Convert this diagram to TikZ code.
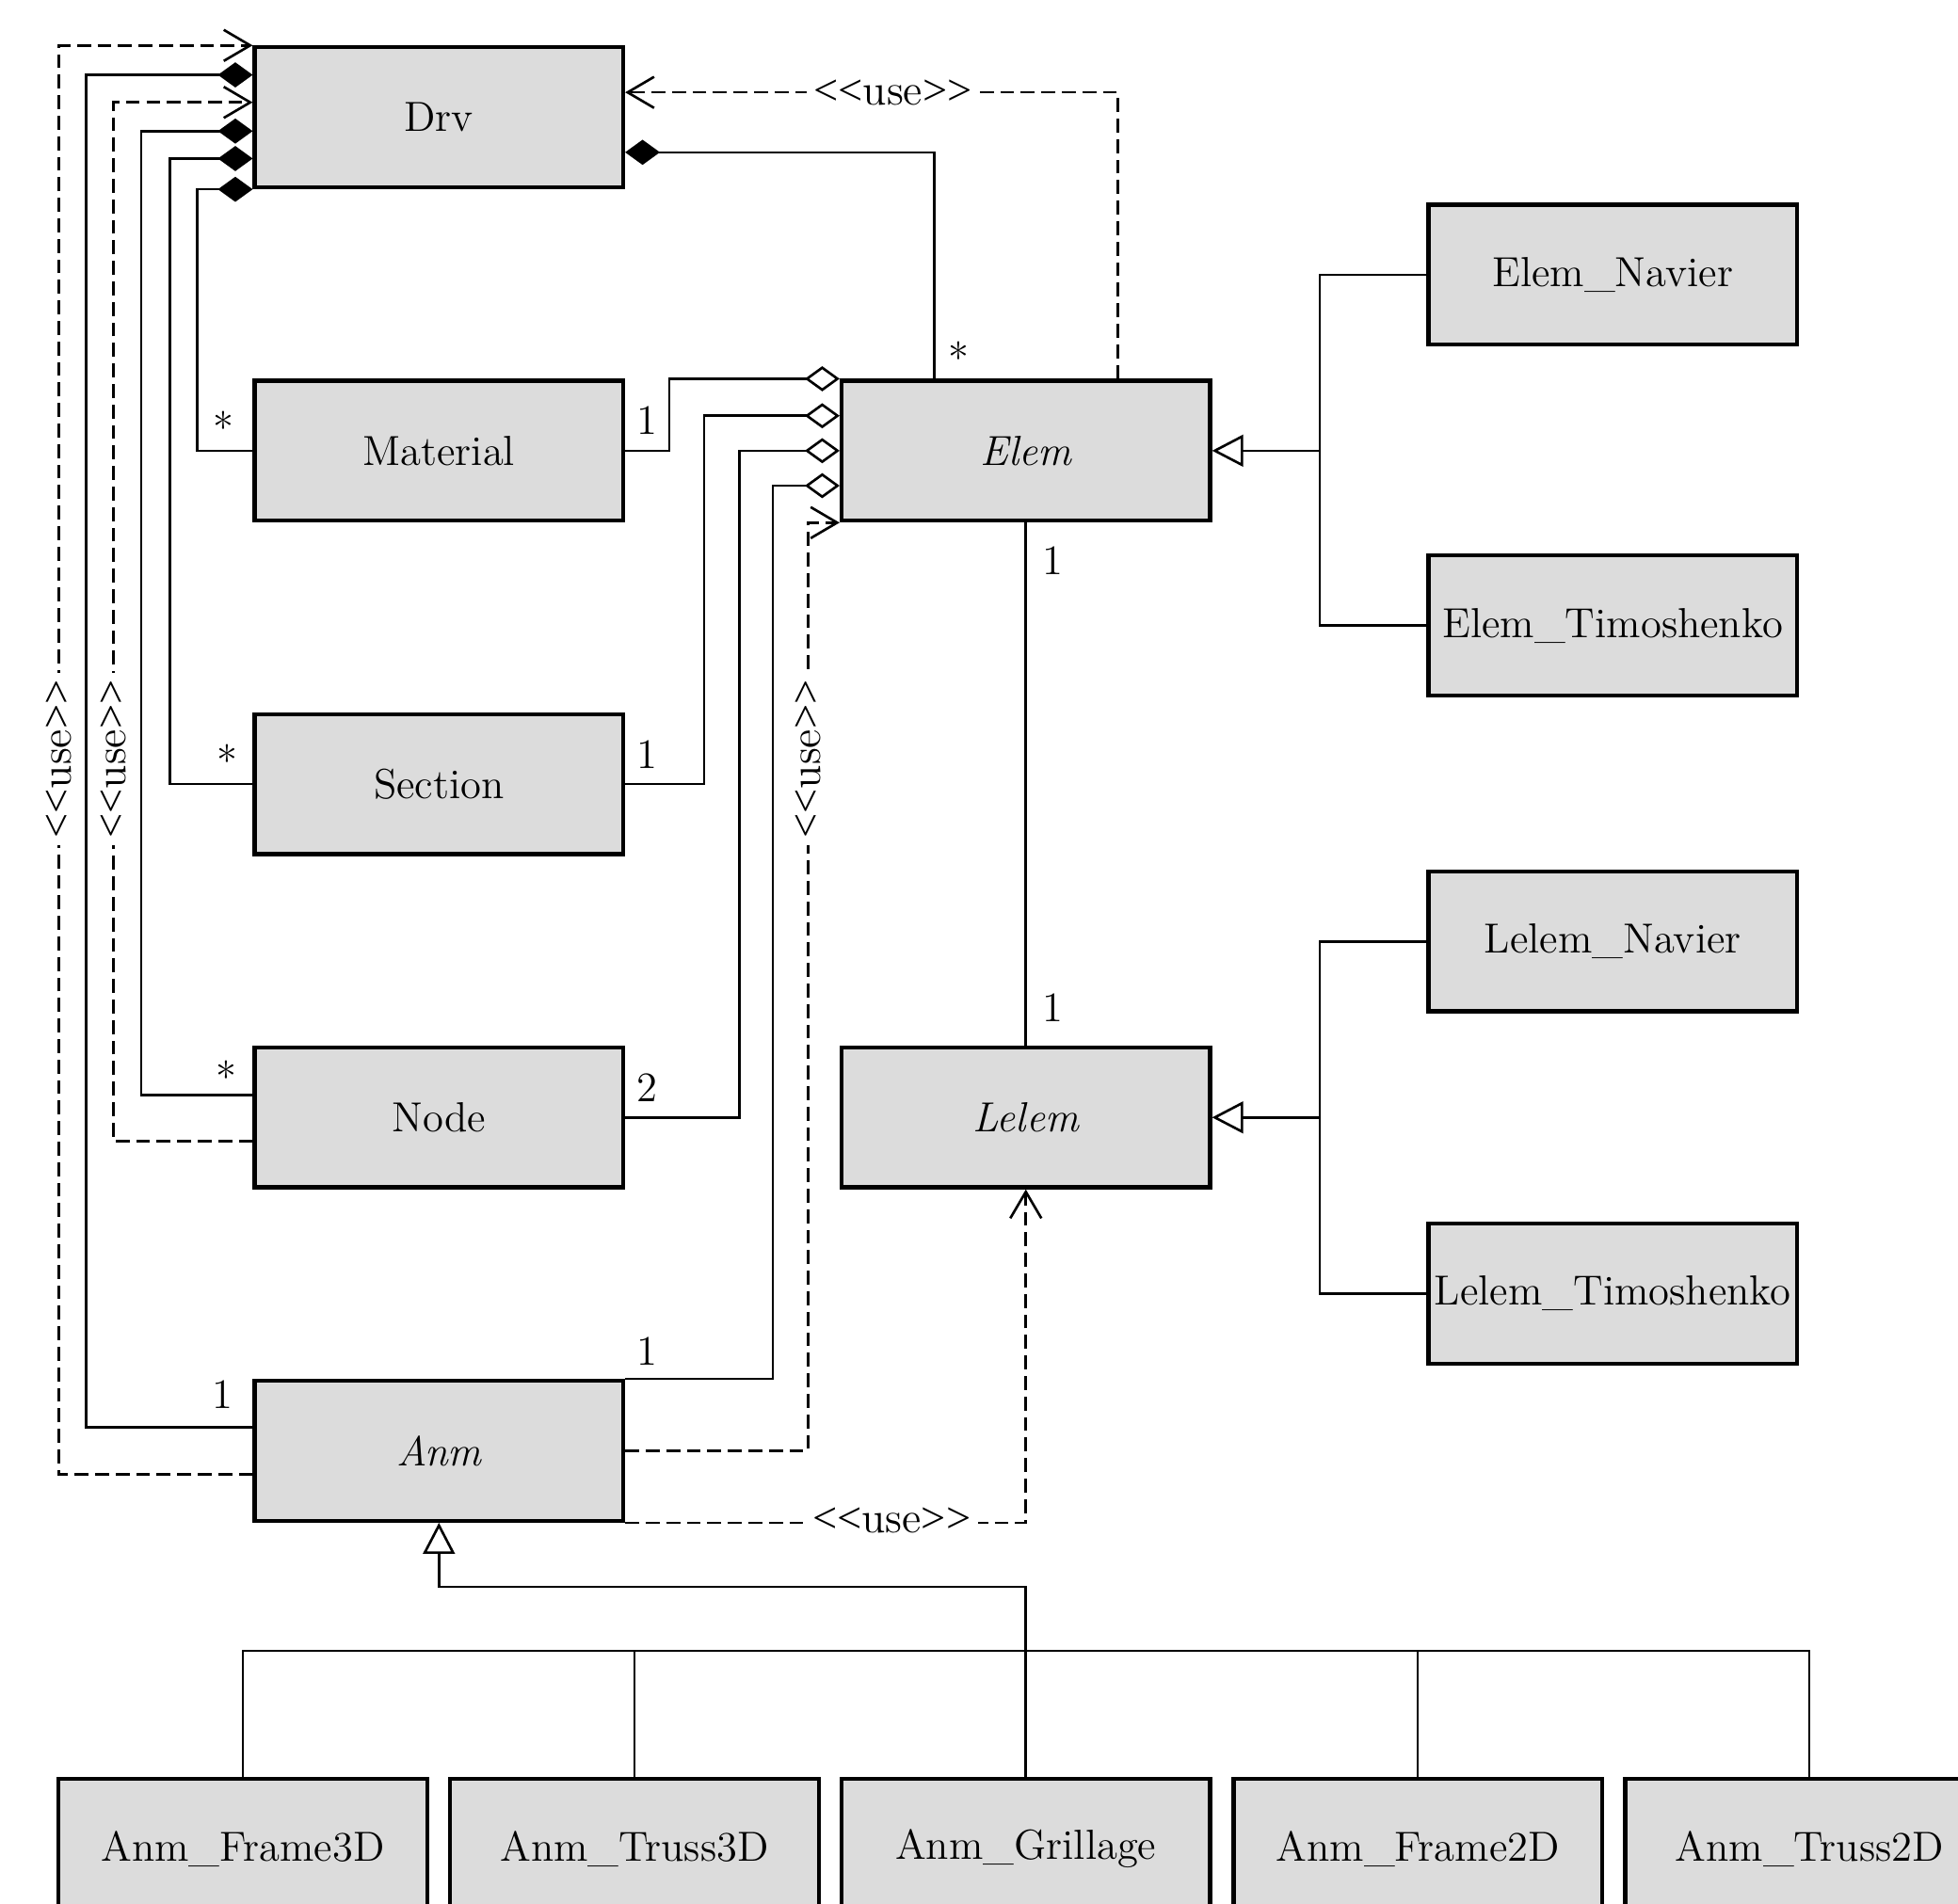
\documentclass[tikz,border=0pt]{standalone}
\usepackage{fontspec}
\newfontfamily\ltfont{Liberation Serif}
\usetikzlibrary{arrows.meta}
\definecolor{boxgray}{RGB}{220,220,220}
\newcommand{\mainsz}{\fontsize{12.7}{15}\selectfont}
\newcommand{\usesz}{\fontsize{13.2}{15}\selectfont}
\newcommand{\uselabel}{{\ltfont{<}{<}}use{\ltfont{>}{>}}}
\begin{document}
\begin{tikzpicture}[x=0.013265cm,y=-0.013265cm,
  cls/.style={draw,line width=1.2pt,fill=boxgray,minimum width=3.913cm,minimum height=1.486cm,inner sep=0pt,font=\mainsz},
  ln/.style={line width=0.75pt},
  thin ln/.style={line width=0.6pt},
  dsh/.style={ln,dash pattern=on 4.2pt off 2pt},
  comp/.style={ln,{Diamond[length=10.5pt,width=7.6pt]}-},
  aggr/.style={ln,{Diamond[open,length=10.5pt,width=7.6pt]}-},
  usedep/.style={dsh,-{Straight Barb[length=8pt,width=9.4pt]}},
  gen/.style={ln,-{Triangle[open,length=9.4pt,width=9.6pt]}},
  lbl/.style={font=\mainsz,inner sep=0pt},
  uselbl/.style={font=\usesz,fill=white,inner sep=2.2pt}]
\useasboundingbox (0,0) rectangle (1568,1525);
\clip (0,0) rectangle (1568,1525);

% classes
\node[cls] (Drv) at (351.5,94) {Drv};
\node[cls] (Material) at (351.5,361) {Material};
\node[cls] (Section) at (351.5,628) {Section};
\node[cls] (Node) at (351.5,895) {Node};
\node[cls] (Anm) at (351.5,1162) {\itshape Anm};
\node[cls] (Elem) at (821.5,361) {\itshape Elem};
\node[cls] (Lelem) at (821.5,895) {\itshape Lelem};
\node[cls] (ElemN) at (1291.5,220) {Elem\_Navier};
\node[cls] (ElemT) at (1291.5,501) {Elem\_Timoshenko};
\node[cls] (LelemN) at (1291.5,754) {Lelem\_Navier};
\node[cls] (LelemT) at (1291.5,1036) {Lelem\_Timoshenko};
\node[cls] (A1) at (194.5,1481) {Anm\_Frame3D};
\node[cls] (A2) at (508,1481) {Anm\_Truss3D};
\node[cls] (A3) at (821.5,1481) {Anm\_Grillage};
\node[cls] (A4) at (1135.5,1481) {Anm\_Frame2D};
\node[cls] (A5) at (1449,1481) {Anm\_Truss2D};

% left side of Drv
\draw[usedep] (Anm.west |- 0,1181) -- (47,1181) |- (Drv.north west);
\draw[comp] (Drv.west |- 0,60) -- (69,60) |- (Anm.west |- 0,1143);
\draw[usedep] (Node.west |- 0,914) -- (91,914) |- (Drv.west |- 0,82);
\draw[comp] (Drv.west |- 0,105) -- (113,105) |- (Node.west |- 0,877);
\draw[comp] (Drv.west |- 0,127) -- (136,127) |- (Section.west);
\draw[comp] (Drv.south west) -- (Drv.south west -| 158,0) |- (Material.west);
\node[uselbl,rotate=90] (u1) at (47,608) {\uselabel};
\node[uselbl,rotate=90] (u2) at (91,608) {\uselabel};

% right side of Drv
\draw[usedep] (Elem.north -| 895,0) |- (Drv.east |- 0,74);
\node[uselbl] (u3) at (715,74) {\uselabel};
\draw[comp] (Drv.east |- 0,122) -| (Elem.north -| 748,0);

% aggregations into Elem
\draw[aggr] (Elem.north west) -- (Elem.north west -| 536,0) |- (Material.east);
\draw[aggr] (Elem.west |- 0,333) -- (564,333) |- (Section.east);
\draw[aggr] (Elem.west) -- (592,361) |- (Node.east);
\draw[aggr] (Elem.west |- 0,389) -- (619,389) |- (Anm.north east);
\draw[usedep] (Anm.east) -- (647,1162) |- (Elem.south west);
\node[uselbl,rotate=90] (u4) at (647,608) {\uselabel};

% Elem - Lelem
\draw[ln] (Elem.south) -- (Lelem.north);
\draw[usedep] (Anm.south east) -| (Lelem.south);
\node[uselbl] (u5) at (714,1218) {\uselabel};

% generalizations
\coordinate (g1) at (1057,361);
\draw[ln] (ElemN.west) -- (ElemN.west -| g1) -- (ElemT.west -| g1) -- (ElemT.west);
\draw[gen] (g1) -- (Elem.east);
\coordinate (g2) at (1057,895);
\draw[ln] (LelemN.west) -- (LelemN.west -| g2) -- (LelemT.west -| g2) -- (LelemT.west);
\draw[gen] (g2) -- (Lelem.east);

\coordinate (bus) at (821.5,1322);
\draw[gen] (A3.north) -- (821.5,1271) -| (Anm.south);
\draw[thin ln] (A1.north) -- (A1.north |- bus) -- (A5.north |- bus) -- (A5.north);
\draw[thin ln] (A2.north) -- (A2.north |- bus);
\draw[thin ln] (A4.north) -- (A4.north |- bus);

% multiplicities
\node[lbl] (m1) at (179,342) {*};
\node[lbl] (m2) at (182,609) {*};
\node[lbl] (m3) at (181,862) {*};
\node[lbl] (m4) at (178,1117) {1};
\node[lbl] (m5) at (518,337) {1};
\node[lbl] (m6) at (518,604) {1};
\node[lbl] (m7) at (518,871) {2};
\node[lbl] (m8) at (518,1082) {1};
\node[lbl] (m9) at (768,286) {*};
\node[lbl] (m10) at (843,449) {1};
\node[lbl] (m11) at (843,807) {1};
\end{tikzpicture}
\end{document}
